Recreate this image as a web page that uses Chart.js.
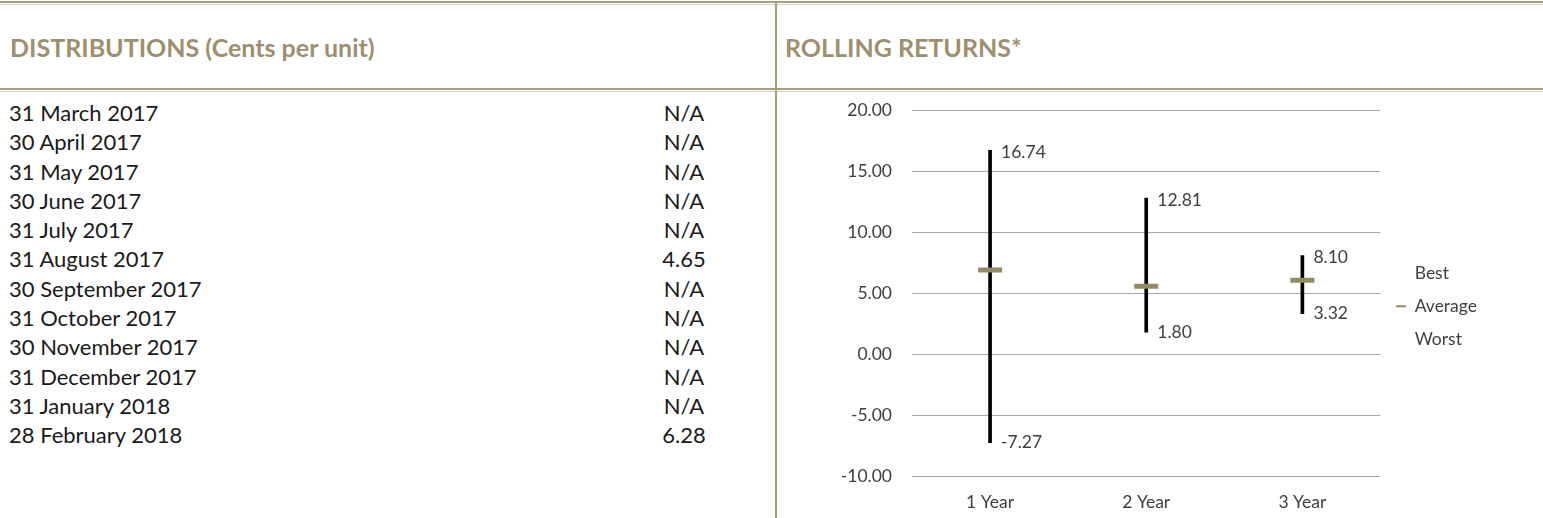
<!DOCTYPE html>
<html>
<head>
<meta charset="utf-8">
<script src="https://cdn.jsdelivr.net/npm/chart.js@4.4.1/dist/chart.umd.min.js"></script>
<style>
  html, body { margin: 0; padding: 0; background: #fff; }
  body { width: 1543px; height: 518px; position: relative; overflow: hidden; font-family: Lato, sans-serif; }
  .hline { position: absolute; left: 0; width: 1543px; height: 1px; border-top: 2px solid #a69c7e; border-bottom: 1px solid #d6d0bd; }
  .vline { position: absolute; left: 775px; top: 3px; width: 1px; height: 515px; border-left: 2px solid #a69c7e; }
  .head { position: absolute; top: 29px; font-weight: bold; font-size: 25px; line-height: 36px; color: #9c906e; }
  #table { position: absolute; left: 9px; top: 98px; width: 740px; font-size: 22px; line-height: 29.3px; color: #1a1a1a; }
  #table .row { display: flex; height: 29.3px; }
  #table .date { width: 620px; }
  #table .val { width: 110px; text-align: center; margin-left: 0; }
  #wrap { position: absolute; left: 778px; top: 80px; width: 765px; height: 438px; }
</style>
</head>
<body>
<div class="hline" style="top:1px"></div>
<div class="hline" style="top:88px"></div>
<div class="vline"></div>
<div class="head" style="left:10px">DISTRIBUTIONS (Cents per unit)</div>
<div class="head" style="left:785px">ROLLING RETURNS*</div>
<div id="table"></div>
<div id="wrap"><canvas id="rollingChart"></canvas></div>

<script>
// distributions table
const distDates = ['31 March 2017', '30 April 2017', '31 May 2017', '30 June 2017', '31 July 2017',
  '31 August 2017', '30 September 2017', '31 October 2017', '30 November 2017', '31 December 2017',
  '31 January 2018', '28 February 2018'];
const distValues = ['N/A', 'N/A', 'N/A', 'N/A', 'N/A', '4.65', 'N/A', 'N/A', 'N/A', 'N/A', 'N/A', '6.28'];

// rolling returns chart
const periods = ['1 Year', '2 Year', '3 Year'];
const best = [16.74, 12.81, 8.10];
const average = [6.90, 5.57, 6.07];
const worst = [-7.27, 1.80, 3.32];
const yTicks = [-10, -5, 0, 5, 10, 15, 20];

const table = document.getElementById('table');
distDates.forEach(function(d, i){
    const row = document.createElement('div');
    row.className = 'row';
    row.innerHTML = '<div class="date">' + d + '</div><div class="val">' + distValues[i] + '</div>';
    table.appendChild(row);
});

const tan = '#958b62';
const textGrey = '#404040';
const chartFont = {family: 'Lato', size: 17.5};

// value labels beside the ends of the high-low lines
const valueLabels = {
    id: 'valueLabels',
    afterDatasetsDraw(chart){
        const ctx = chart.ctx;
        ctx.save();
        ctx.font = '17.5px Lato';
        ctx.fillStyle = textGrey;
        ctx.textAlign = 'left';
        ctx.textBaseline = 'middle';
        [1, 3].forEach(function(idx){
            const meta = chart.getDatasetMeta(idx);
            const vals = chart.data.datasets[idx].data;
            meta.data.forEach(function(pt, j){
                const dy = idx === 1 ? 2 : 0;
                ctx.fillText(vals[j].toFixed(2), pt.x + 11, pt.y + dy);
            });
        });
        ctx.restore();
    }
};

new Chart(document.getElementById('rollingChart'), {
    type: 'bar',
    data: {
        labels: periods,
        datasets: [
            {
                label: 'range',
                data: periods.map((p, i) => [worst[i], best[i]]),
                backgroundColor: '#000',
                barThickness: 3,
                order: 1
            },
            {
                type: 'line', label: 'Best', data: best,
                showLine: false, pointRadius: 0, order: 2
            },
            {
                type: 'line', label: 'Average', data: average,
                showLine: false, pointStyle: 'line', pointRadius: 12,
                pointBorderWidth: 5, pointBorderColor: tan, borderColor: tan, order: 0
            },
            {
                type: 'line', label: 'Worst', data: worst,
                showLine: false, pointRadius: 0, order: 2
            }
        ]
    },
    options: {
        responsive: true,
        maintainAspectRatio: false,
        animation: false,
        layout: { padding: {top: 10, right: 56, left: 0, bottom: 0} },
        plugins: {
            tooltip: {enabled: false},
            legend: {
                position: 'right',
                fullSize: false,
                title: {display: true, text: ' ', font: {size: 10}, padding: {top: 7, bottom: 7}},
                labels: {
                    font: chartFont,
                    color: textGrey,
                    padding: 15.5,
                    usePointStyle: true,
                    pointStyleWidth: 10,
                    generateLabels(chart){
                        return [1, 2, 3].map(function(i){
                            const ds = chart.data.datasets[i];
                            return {
                                text: ds.label,
                                fillStyle: 'rgba(0,0,0,0)',
                                strokeStyle: i === 2 ? tan : 'rgba(0,0,0,0)',
                                lineWidth: 2,
                                pointStyle: 'line',
                                fontColor: textGrey,
                                hidden: false,
                                datasetIndex: i
                            };
                        });
                    }
                }
            }
        },
        scales: {
            x: {
                grid: {display: false},
                border: {display: false},
                ticks: {font: chartFont, color: textGrey, padding: 8},
                afterFit(scale){ scale.height = 42; }
            },
            y: {
                min: yTicks[0],
                max: yTicks[yTicks.length - 1],
                grid: {color: '#a6a6a6', lineWidth: 1, drawTicks: false},
                border: {display: false},
                ticks: {
                    stepSize: 5,
                    font: chartFont,
                    color: textGrey,
                    padding: 20,
                    callback: v => Number(v).toFixed(2)
                },
                afterFit(scale){ scale.width = 134; }
            }
        }
    },
    plugins: [valueLabels]
});
</script>
</body>
</html>
